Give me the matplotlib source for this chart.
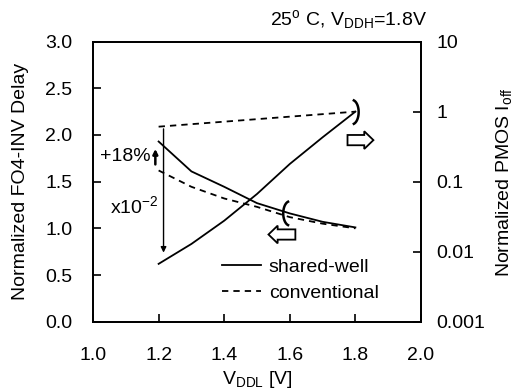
import matplotlib
matplotlib.use("Agg")
import numpy as np
import matplotlib.pyplot as plt
from matplotlib.patches import FancyArrow

plt.rcParams['font.family'] = ['Liberation Sans', 'DejaVu Sans']
plt.rcParams['mathtext.fontset'] = 'custom'
plt.rcParams['mathtext.rm'] = 'Liberation Sans'
plt.rcParams['mathtext.it'] = 'Liberation Sans'

# data
vddl = [1.2, 1.3, 1.4, 1.5, 1.6, 1.7, 1.8]
delay_shared = [1.93, 1.61, 1.445, 1.27, 1.16, 1.07, 1.01]
delay_conv = [1.62, 1.445, 1.32, 1.23, 1.12, 1.05, 1.0]
ioff_shared = [0.0067, 0.0129, 0.0277, 0.0667, 0.179, 0.43, 1.0]
ioff_conv_x = [1.2, 1.8]
ioff_conv = [0.61, 1.0]

fs = 14
dash = (0, (3.5, 2.8))


def bracket(ax, cx, cy, w, h, side):
    # half-ellipse bracket ")" (side=1) or "(" (side=-1)
    t = np.linspace(-1.3, 1.3, 40)
    ax.plot(cx + side * w * np.cos(t), cy + h * np.sin(t), color='black', lw=1.8)


fig = plt.figure(figsize=(5.14, 3.89), dpi=100)
ax = fig.add_axes([0.181, 0.173, 0.638, 0.72])
ax2 = ax.twinx()

ax.plot(vddl, delay_shared, color='black', lw=1.3, label='shared-well')
ax.plot(vddl, delay_conv, color='black', lw=1.3, ls=dash, label='conventional')
ax2.plot(vddl, ioff_shared, color='black', lw=1.3)
ax2.plot(ioff_conv_x, ioff_conv, color='black', lw=1.3, ls=dash)

ax.set_xlim(1.0, 2.0)
ax.set_ylim(0, 3.0)
ax.set_xticks([1.0, 1.2, 1.4, 1.6, 1.8, 2.0])
ax.set_yticks([0.0, 0.5, 1.0, 1.5, 2.0, 2.5, 3.0])
ax.tick_params(direction='in', length=6, labelsize=fs, pad=15, width=1.2)
ax.tick_params(axis='x', pad=18)
ax2.set_yscale('log')
ax2.set_ylim(0.001, 10)
ax2.set_yticks([0.001, 0.01, 0.1, 1, 10])
ax2.set_yticklabels(['0.001', '0.01', '0.1', '1', '10'])
ax2.minorticks_off()
ax2.tick_params(direction='in', length=6, labelsize=fs, pad=11, width=1.2)
for a in (ax, ax2):
    for s in a.spines.values():
        s.set_linewidth(1.3)

ax.set_xlabel('V$_{\\mathrm{DDL}}$ [V]', fontsize=fs)
ax.set_ylabel('Normalized FO4-INV Delay', fontsize=fs)
ax2.set_ylabel('Normalized PMOS I$_{\\mathrm{off}}$', fontsize=fs)
ax.xaxis.set_label_coords(0.5, -0.17)
ax.yaxis.set_label_coords(-0.195, 0.5)
ax2.yaxis.set_label_coords(1.222, 0.5)

fig.text(0.831, 0.949, '25$^{\\mathrm{o}}$ C, V$_{\\mathrm{DDH}}$=1.8V', fontsize=fs,
         ha='right', va='center')

# annotations
ax.annotate('', xy=(1.215, 0.71), xytext=(1.215, 2.095),
            arrowprops=dict(arrowstyle='-|>', color='black', lw=1, mutation_scale=8))
ax.annotate('', xy=(1.19, 1.88), xytext=(1.19, 1.655),
            arrowprops=dict(arrowstyle='-|>', color='black', lw=1.8, mutation_scale=7))
ax.text(1.177, 1.77, '+18%', fontsize=fs, ha='right', va='center')
ax.text(1.125, 1.24, 'x10$^{\\mathrm{-2}}$', fontsize=fs, ha='center', va='center')

# brackets marking which axis each curve set uses
bracket(ax, 1.79, 2.245, 0.02, 0.13, 1)
bracket(ax, 1.6, 1.16, 0.02, 0.13, -1)
ax.add_patch(FancyArrow(1.776, 1.945, 0.079, 0, width=0.11, head_width=0.19, head_length=0.028,
                        length_includes_head=True, facecolor='white', edgecolor='black', lw=1.3))
ax.add_patch(FancyArrow(1.617, 0.934, -0.082, 0, width=0.11, head_width=0.19, head_length=0.028,
                        length_includes_head=True, facecolor='white', edgecolor='black', lw=1.3))

ax.legend(loc='center left', bbox_to_anchor=(0.394, 0.149), frameon=False, fontsize=fs,
          handlelength=2.0, handletextpad=0.4, labelspacing=0.45, borderpad=0, borderaxespad=0)

fig.savefig('out.png', dpi=100)
